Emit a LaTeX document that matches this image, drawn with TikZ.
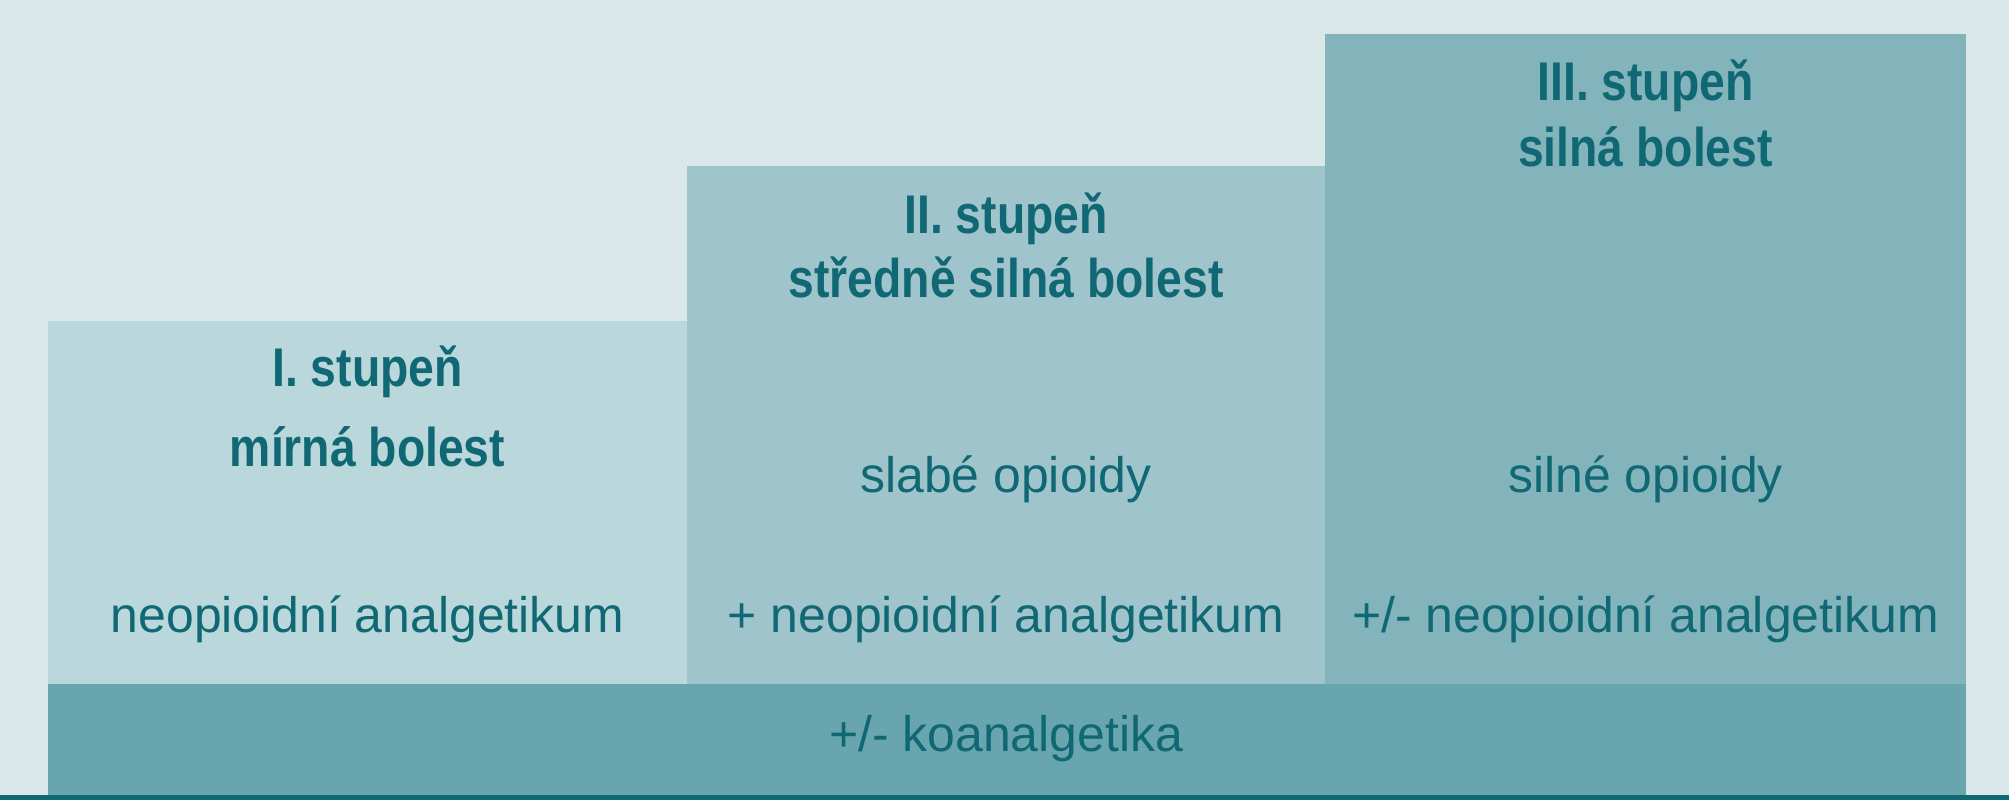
\documentclass[tikz,border=0pt]{standalone}
\usepackage{fontspec}
\setmainfont{Liberation Sans}
\newfontfamily\headfont[FakeStretch=0.85]{Liberation Sans}

\definecolor{bg}{HTML}{DAE7E8}
\definecolor{stepone}{HTML}{BAD7DB}
\definecolor{steptwo}{HTML}{A0C4CB}
\definecolor{stepthree}{HTML}{84B4BB}
\definecolor{basebar}{HTML}{68A5AF}
\definecolor{ink}{HTML}{0F6873}

\begin{document}
\begin{tikzpicture}[
    txt/.style={anchor=base, text=ink, inner sep=0pt, font=\fontsize{14.2}{17}\selectfont},
    head/.style={anchor=base, text=ink, inner sep=0pt, font=\headfont\bfseries\fontsize{15.5}{18}\selectfont}]
    \fill[bg] (0,0) rectangle (20.09,8);

    \fill[stepone] (0.48,1.16) rectangle (6.87,4.79);
    \fill[steptwo] (6.87,1.16) rectangle (13.25,6.34);
    \fill[stepthree] (13.25,1.16) rectangle (19.66,7.66);
    \fill[basebar] (0.48,0.05) rectangle (19.66,1.16);
    \fill[ink] (0,0) rectangle (20.09,0.05);

    \node[head] (h1) at (3.675,4.13) {I. stupeň};
    \node[head] (p1) at (3.675,3.33) {mírná bolest};
    \node[txt] (d1) at (3.675,1.67) {neopioidní analgetikum};

    \node[head] (h2) at (10.06,5.66) {II. stupeň};
    \node[head] (p2) at (10.06,5.02) {středně silná bolest};
    \node[txt] (o2) at (10.06,3.07) {slabé opioidy};
    \node[txt] (d2) at (10.06,1.67) {+ neopioidní analgetikum};

    \node[head] (h3) at (16.455,6.99) {III. stupeň};
    \node[head] (p3) at (16.455,6.33) {silná bolest};
    \node[txt] (o3) at (16.455,3.07) {silné opioidy};
    \node[txt] (d3) at (16.455,1.67) {+/- neopioidní analgetikum};

    \node[txt] (ko) at (10.06,0.48) {+/- koanalgetika};
\end{tikzpicture}
\end{document}
